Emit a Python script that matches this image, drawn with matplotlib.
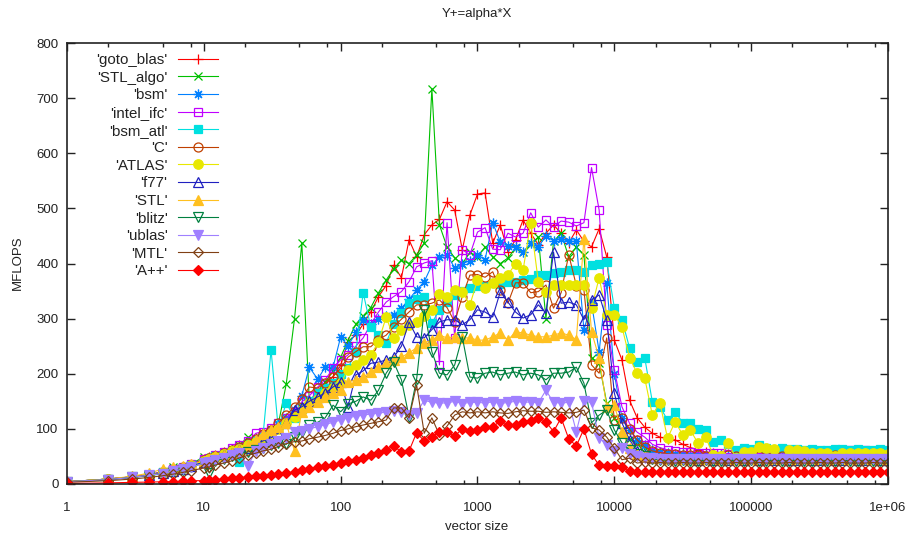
import matplotlib
matplotlib.use('Agg')
import matplotlib.pyplot as plt
from matplotlib.ticker import FixedLocator, FixedFormatter, NullFormatter

plt.rcParams['font.family'] = ['Liberation Sans', 'DejaVu Sans']
plt.rcParams['font.size'] = 9.5

# vector sizes used by the benchmark
sizes = [1, 2, 3, 4, 5, 6, 7, 8, 10, 11,
         12, 14, 16, 18, 21, 24, 27, 31, 35, 40,
         46, 52, 59, 68, 77, 88, 100, 113, 129, 146,
         166, 189, 215, 244, 278, 316, 359, 408, 464, 527,
         599, 681, 774, 880, 1000, 1136, 1292, 1468, 1668, 1896,
         2154, 2448, 2783, 3162, 3594, 4084, 4642, 5275, 5995, 6813,
         7743, 8800, 10000, 11365, 12916, 14678, 16681, 18957, 21544, 24484,
         27826, 31623, 35938, 40842, 46416, 52749, 59948, 68129, 77426, 87992,
         100000, 113646, 129155, 146780, 166810, 189574, 215443, 244844, 278256, 316228,
         359381, 408423, 464159, 527500, 599484, 681292, 774264, 879923, 1000000]

# MFLOPS per library
goto_blas = [4, 9, 13, 17, 22, 27, 31, 36, 45, 49,
             53, 58, 64, 71, 77, 84, 92, 100, 108, 118,
             128, 140, 152, 165, 180, 195, 215, 258, 270, 290,
             312, 340, 360, 397, 374, 443, 412, 452, 470, 480,
             512, 497, 425, 488, 526, 528, 437, 470, 421, 443,
             479, 455, 434, 455, 470, 455, 437, 461, 440, 430,
             463, 412, 261, 225, 152, 120, 103, 92, 85, 82,
             80, 72, 66, 62, 58, 56, 55, 54, 52, 53,
             52, 51, 52, 50, 51, 50, 51, 50, 52, 50,
             51, 50, 50, 51, 52, 50, 51, 50, 50]
stl_algo = [4, 9, 13, 17, 22, 31, 30, 36, 49, 48,
            52, 58, 64, 70, 85, 80, 90, 100, 108, 181,
            300, 437, 150, 168, 185, 205, 230, 260, 290, 305,
            320, 347, 370, 390, 406, 400, 415, 437, 717, 470,
            430, 410, 400, 420, 412, 430, 412, 400, 410, 428,
            420, 435, 448, 300, 440, 455, 412, 430, 416, 229,
            219, 147, 120, 98, 82, 72, 66, 60, 58, 56,
            54, 52, 50, 50, 48, 49, 48, 47, 48, 47,
            48, 47, 48, 47, 46, 47, 48, 47, 46, 47,
            48, 47, 46, 47, 48, 47, 46, 47, 47]
bsm = [4, 9, 13, 16, 21, 26, 30, 35, 44, 47,
       51, 56, 62, 68, 74, 82, 90, 98, 108, 120,
       135, 160, 212, 190, 212, 212, 267, 250, 275, 298,
       290, 300, 305, 307, 319, 335, 352, 367, 397, 412,
       416, 392, 400, 405, 416, 407, 474, 439, 432, 430,
       421, 437, 430, 450, 441, 445, 440, 440, 280, 328,
       240, 365, 200, 120, 98, 80, 70, 62, 58, 56,
       55, 54, 53, 52, 52, 51, 52, 51, 50, 51,
       50, 51, 50, 50, 51, 50, 50, 51, 50, 50,
       51, 50, 50, 51, 50, 50, 51, 50, 50]
intel_ifc = [4, 9, 13, 17, 22, 27, 31, 36, 45, 48,
             52, 58, 65, 71, 78, 92, 95, 102, 110, 120,
             130, 149, 160, 176, 189, 210, 225, 234, 250, 265,
             290, 312, 330, 340, 349, 367, 394, 401, 405, 216,
             474, 265, 425, 416, 457, 465, 426, 425, 455, 448,
             455, 492, 466, 479, 466, 477, 475, 468, 474, 574,
             497, 289, 207, 140, 110, 94, 85, 72, 66, 62,
             60, 58, 58, 57, 56, 57, 56, 55, 56, 55,
             56, 55, 56, 57, 56, 55, 56, 57, 58, 59,
             60, 60, 61, 62, 60, 61, 60, 61, 60]
bsm_atl = [4, 9, 12, 16, 21, 26, 29, 34, 42, 46,
           50, 55, 60, 40, 72, 78, 85, 243, 100, 147,
           120, 140, 150, 165, 175, 183, 200, 210, 240, 347,
           285, 270, 256, 290, 310, 328, 335, 340, 292, 316,
           330, 343, 350, 355, 360, 360, 365, 362, 367, 367,
           370, 372, 379, 379, 383, 385, 388, 388, 385, 397,
           400, 403, 320, 298, 247, 221, 229, 149, 140, 116,
           131, 111, 111, 100, 98, 76, 80, 72, 62, 66,
           64, 71, 66, 62, 65, 63, 64, 62, 63, 62,
           62, 64, 63, 62, 63, 62, 62, 63, 62]
c_lang = [4, 9, 13, 16, 21, 26, 30, 35, 44, 47,
          51, 56, 62, 68, 74, 82, 90, 98, 110, 125,
          140, 155, 176, 174, 183, 195, 210, 230, 240, 249,
          249, 262, 270, 285, 299, 312, 325, 325, 328, 334,
          320, 294, 340, 379, 380, 375, 385, 352, 328, 365,
          365, 347, 349, 361, 319, 347, 416, 360, 352, 216,
          201, 265, 116, 120, 100, 80, 67, 60, 57, 55,
          54, 53, 52, 52, 51, 52, 51, 52, 51, 51,
          52, 51, 51, 52, 51, 51, 52, 51, 51, 52,
          51, 52, 51, 51, 52, 51, 51, 52, 51]
atlas = [4, 9, 12, 16, 21, 25, 29, 34, 42, 45,
         49, 54, 59, 64, 70, 76, 84, 92, 100, 110,
         122, 135, 147, 155, 165, 175, 183, 207, 215, 225,
         234, 258, 303, 265, 280, 288, 294, 305, 316, 345,
         340, 352, 349, 325, 370, 356, 365, 374, 379, 400,
         388, 474, 367, 349, 361, 361, 361, 361, 361, 319,
         374, 307, 307, 285, 229, 201, 192, 125, 147, 83,
         113, 89, 98, 74, 85, 53, 51, 74, 47, 58,
         58, 67, 65, 64, 45, 62, 62, 60, 56, 56,
         56, 51, 56, 56, 56, 56, 56, 56, 55]
f77 = [4, 8, 12, 16, 20, 24, 28, 32, 40, 44,
       48, 52, 57, 62, 66, 72, 78, 84, 92, 110,
       134, 140, 150, 158, 165, 176, 185, 140, 198, 205,
       219, 221, 225, 230, 250, 294, 267, 265, 280, 294,
       298, 298, 289, 298, 316, 312, 303, 349, 330, 312,
       301, 307, 325, 310, 421, 328, 330, 325, 298, 334,
       343, 298, 165, 111, 80, 60, 52, 48, 47, 46,
       45, 46, 45, 44, 45, 44, 45, 44, 45, 44,
       45, 44, 45, 44, 45, 44, 44, 45, 44, 44,
       45, 44, 44, 45, 44, 44, 45, 44, 44]
stl = [4, 9, 14, 20, 27, 31, 33, 36, 42, 46,
       50, 53, 56, 62, 70, 80, 90, 98, 103, 110,
       60, 131, 140, 149, 158, 165, 171, 185, 189, 194,
       203, 212, 219, 225, 230, 238, 247, 256, 261, 270,
       265, 267, 265, 265, 261, 261, 267, 274, 261, 276,
       274, 270, 267, 267, 270, 274, 270, 262, 445, 276,
       229, 140, 143, 95, 65, 55, 50, 48, 47, 46,
       45, 46, 45, 45, 46, 45, 45, 46, 45, 45,
       46, 45, 45, 46, 45, 45, 46, 45, 45, 46,
       45, 46, 45, 45, 46, 45, 45, 46, 45]
blitz = [4, 8, 12, 15, 19, 22, 26, 30, 38, 20,
         42, 46, 50, 55, 58, 62, 66, 70, 75, 72,
         85, 95, 107, 112, 120, 143, 131, 145, 150, 158,
         152, 170, 201, 221, 189, 122, 190, 316, 240, 201,
         198, 216, 267, 194, 192, 201, 203, 198, 201, 203,
         198, 201, 198, 189, 201, 201, 203, 212, 183, 111,
         125, 134, 98, 75, 62, 55, 50, 46, 44, 43,
         42, 43, 42, 42, 43, 42, 42, 43, 42, 42,
         43, 42, 42, 43, 42, 42, 43, 42, 42, 43,
         42, 42, 43, 42, 42, 43, 42, 42, 42]
ublas = [4, 8, 12, 16, 19, 23, 27, 30, 38, 40,
         44, 48, 52, 56, 33, 60, 66, 72, 78, 84,
         94, 96, 100, 104, 108, 112, 116, 120, 123, 125,
         127, 129, 130, 132, 130, 125, 129, 152, 148, 147,
         147, 150, 146, 148, 148, 147, 149, 146, 148, 150,
         148, 149, 147, 170, 148, 147, 148, 95, 150, 148,
         84, 71, 60, 65, 55, 50, 48, 47, 46, 46,
         45, 46, 45, 46, 45, 46, 45, 45, 46, 45,
         46, 45, 45, 46, 45, 45, 46, 45, 46, 45,
         45, 46, 45, 45, 46, 45, 46, 45, 45]
mtl = [3, 6, 9, 12, 15, 18, 21, 24, 29, 31,
       34, 38, 42, 47, 52, 56, 60, 63, 68, 73,
       77, 78, 82, 85, 88, 92, 97, 100, 104, 107,
       110, 113, 116, 138, 138, 120, 180, 92, 120, 89,
       105, 125, 131, 129, 131, 129, 131, 129, 128, 131,
       133, 132, 132, 130, 131, 130, 129, 130, 134, 102,
       98, 85, 65, 44, 47, 38, 40, 38, 39, 38,
       38, 39, 38, 38, 39, 38, 38, 38, 39, 38,
       38, 39, 38, 38, 38, 39, 38, 38, 38, 39,
       38, 38, 39, 38, 38, 38, 39, 38, 38]
a_pp = [1, 2, 3, 3.5, 4, 4.5, 5, 6, 6, 7,
        8, 9, 10, 11, 13, 14, 15, 17, 18, 20,
        22, 25, 28, 30, 32, 35, 38, 41, 44, 48,
        53, 57, 62, 69, 58, 60, 93, 78, 85, 94,
        94, 87, 100, 96, 98, 103, 103, 115, 107, 107,
        113, 115, 120, 113, 95, 120, 82, 69, 100, 54,
        34, 33, 33, 31, 24, 22, 21, 22, 21, 21,
        22, 21, 21, 22, 21, 21, 22, 21, 21, 22,
        21, 21, 22, 21, 21, 22, 21, 21, 22, 21,
        21, 22, 21, 21, 22, 21, 21, 22, 21]

# label, values, colour, marker, filled, marker size
series = [
    ("'goto_blas'", goto_blas, '#ff0000', '+', False, 7.0),
    ("'STL_algo'", stl_algo, '#00c000', 'x', False, 6.0),
    ("'bsm'", bsm, '#0080ff', (8, 2, 0), False, 7.0),
    ("'intel_ifc'", intel_ifc, '#c000ff', 's', False, 6.0),
    ("'bsm_atl'", bsm_atl, '#00e0e0', 's', True, 6.0),
    ("'C'", c_lang, '#c04000', 'o', False, 6.5),
    ("'ATLAS'", atlas, '#e8e800', 'o', True, 6.8),
    ("'f77'", f77, '#2020c0', '^', False, 6.5),
    ("'STL'", stl, '#ffc020', '^', True, 6.8),
    ("'blitz'", blitz, '#008040', 'v', False, 6.5),
    ("'ublas'", ublas, '#a080ff', 'v', True, 6.8),
    ("'MTL'", mtl, '#804014', 'D', False, 4.6),
    ("'A++'", a_pp, '#ff0000', 'D', True, 5.0),
]

fig = plt.figure(figsize=(9.10, 5.35), dpi=100)
ax = fig.add_axes([67 / 910, 1 - 484 / 535, (888 - 67) / 910, (484 - 43) / 535])

for label, vals, col, mk, filled, ms in series:
    ax.plot(sizes, vals, color=col, lw=0.8, marker=mk, ms=ms, mew=0.9,
            mfc=col if filled else 'none', mec=col, label=label)

ax.set_xscale('log')
ax.set_xlim(1, 1e6)
ax.set_ylim(0, 800)

xmaj = [1, 10, 100, 1000, 10000, 100000, 1000000]
ax.xaxis.set_major_locator(FixedLocator(xmaj))
ax.xaxis.set_major_formatter(FixedFormatter(['1', '10', '100', '1000', '10000', '100000', '1e+06']))
xmin = [m * 10 ** k for k in range(6) for m in (2, 5, 8)]
ax.xaxis.set_minor_locator(FixedLocator(xmin))
ax.xaxis.set_minor_formatter(NullFormatter())
ax.set_yticks(range(0, 801, 100))

ax.tick_params(which='both', direction='in', top=True, right=True, colors='#222222',
               labelcolor='#222222', labelsize=9.5)
ax.tick_params(which='major', length=5.5, width=1.0)
ax.tick_params(which='minor', length=3, width=1.0)
ax.tick_params(axis='x', which='major', pad=13)
ax.tick_params(axis='y', which='major', pad=6)
for sp in ax.spines.values():
    sp.set_linewidth(1.2)
    sp.set_color('#222222')

fig.text(477 / 910, 1 - 14 / 535, 'Y+=alpha*X', ha='center', va='center', fontsize=9.5, color='#222222')
fig.text(477 / 910, 1 - 527 / 535, 'vector size', ha='center', va='center', fontsize=9.5, color='#222222')
fig.text(18 / 910, 1 - 263 / 535, 'MFLOPS', ha='center', va='center', rotation=90, fontsize=9.5,
         color='#222222')

leg = ax.legend(loc='upper right', bbox_to_anchor=(0.184, 0.977), markerfirst=False, frameon=False,
                borderaxespad=0, borderpad=0, handlelength=2.67, handletextpad=0.7,
                labelspacing=0.24, fontsize=10.8)
for t in leg.get_texts():
    t.set_color('#222222')

fig.savefig('out.png', dpi=100)
